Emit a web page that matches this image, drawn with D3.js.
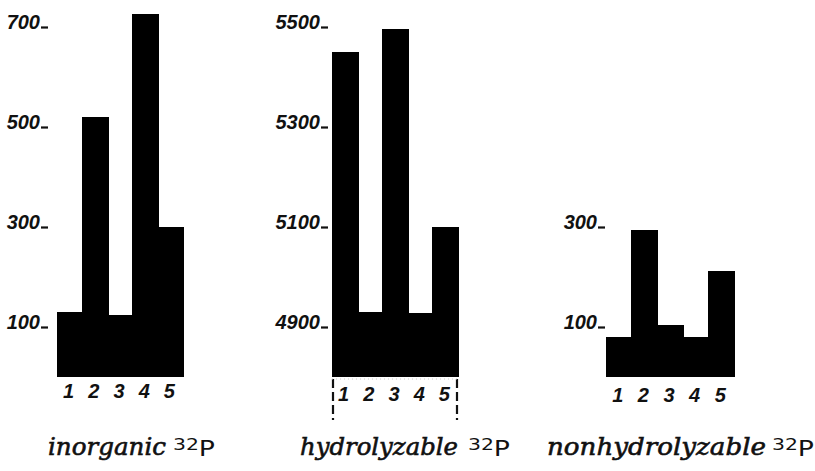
<!DOCTYPE html>
<html>
<head>
<meta charset="utf-8">
<script src="https://cdn.jsdelivr.net/npm/d3@7"></script>
<style>
  body { margin: 0; background: #fff; }
  .num { font-family: "Liberation Sans", sans-serif; font-weight: bold; font-style: italic; font-size: 20px; fill: #111; }
  .title { font-family: "DejaVu Serif", serif; font-style: italic; font-size: 24px; fill: #111; stroke: #111; stroke-width: 0.6px; }
  .sup { font-family: "DejaVu Sans", sans-serif; fill: #111; }
</style>
</head>
<body>
<div class="chart"></div>
<script>
var categories = ["1", "2", "3", "4", "5"];
var inorganic = [130, 520, 125, 726, 300];
var hydrolyzable = [5450, 4930, 5496, 4928, 5100];
var nonhydrolyzable = [80, 294, 104, 80, 212];
var inorganicTicks = [100, 300, 500, 700];
var hydrolyzableTicks = [4900, 5100, 5300, 5500];
var nonhydrolyzableTicks = [100, 300];
var titles = ["inorganic", "hydrolyzable", "nonhydrolyzable"];

var svg = d3.select('.chart')
    .append('svg')
    .attr('width', 815)
    .attr('height', 471);

// every panel shares the same vertical scale: 200 units = 100 px
var panels = [
    { values: inorganic, ticks: inorganicTicks, domain: [0, 700], x0: 57, x1: 183, axisX: 48, labelY: 398,
      title: titles[0], tx: 48, tw: 118, sx: 173 },
    { values: hydrolyzable, ticks: hydrolyzableTicks, domain: [4800, 5500], x0: 332, x1: 458, axisX: 328, labelY: 401,
      title: titles[1], tx: 300, tw: 158, sx: 468, dashed: true },
    { values: nonhydrolyzable, ticks: nonhydrolyzableTicks, domain: [0, 300], x0: 606, x1: 734, axisX: 605, labelY: 402,
      title: titles[2], tx: 547, tw: 219, sx: 772 }
];

var baseY = 377;

panels.forEach(function (p) {
    var y = d3.scaleLinear()
        .domain(p.domain)
        .range([baseY, baseY - (p.domain[1] - p.domain[0]) / 2]);

    var x = d3.scaleBand()
        .domain(categories)
        .range([p.x0, p.x1])
        .padding(0);

    var g = svg.append('g');

    g.selectAll('.bar')
        .data(p.values)
        .enter().append('rect')
        .attr('class', 'bar')
        .attr('x', (d, i) => Math.floor(x(categories[i])))
        .attr('width', x.bandwidth() + 1.5)
        .attr('y', d => Math.round(y(d)))
        .attr('height', d => baseY - Math.round(y(d)))
        .attr('shape-rendering', 'crispEdges')
        .attr('fill', '#000');

    // y axis: number followed by a short dash on its baseline
    var yAxis = d3.axisLeft(y)
        .tickValues(p.ticks)
        .tickSize(7)
        .tickPadding(1)
        .tickFormat(d3.format('d'));

    var ya = g.append('g')
        .attr('transform', 'translate(' + p.axisX + ',0)')
        .call(yAxis);
    ya.select('.domain').remove();
    ya.selectAll('.tick line').attr('stroke', '#111').attr('stroke-width', 2.2);
    ya.selectAll('.tick text')
        .attr('class', 'num')
        .attr('dy', '0.05em');
    ya.attr('font-family', null).attr('font-size', null);

    // category numbers under the bars
    var xAxis = d3.axisBottom(x).tickSize(0).tickPadding(0);
    var xa = g.append('g')
        .attr('transform', 'translate(-1,' + p.labelY + ')')
        .call(xAxis);
    xa.select('.domain').remove();
    xa.attr('font-family', null).attr('font-size', null);
    xa.selectAll('.tick text')
        .attr('class', 'num')
        .attr('y', 0)
        .attr('dy', 0);

    if (p.dashed) {
        [p.x0 + 1, p.x1 - 1].forEach(function (xx) {
            g.append('line')
                .attr('x1', xx).attr('x2', xx)
                .attr('y1', baseY + 2).attr('y2', 420)
                .attr('stroke', '#111')
                .attr('stroke-width', 2.2)
                .attr('stroke-dasharray', '9,4');
        });
        g.append('line')
            .attr('x1', p.x0).attr('x2', p.x1)
            .attr('y1', baseY + 2).attr('y2', baseY + 2)
            .attr('stroke', '#ccc')
            .attr('stroke-width', 1)
            .attr('stroke-dasharray', '1,3');
    }

    svg.append('text')
        .attr('class', 'title')
        .attr('x', p.tx)
        .attr('y', 455)
        .attr('textLength', p.tw)
        .attr('lengthAdjust', 'spacingAndGlyphs')
        .text(p.title);

    var sup = svg.append('text')
        .attr('class', 'sup')
        .attr('x', p.sx)
        .attr('y', 456)
        .attr('textLength', 42)
        .attr('lengthAdjust', 'spacingAndGlyphs');
    sup.append('tspan')
        .attr('font-size', '16px')
        .attr('dy', '-6')
        .text('32');
    sup.append('tspan')
        .attr('font-size', '21px')
        .attr('dy', '6')
        .text('P');
});
</script>
</body>
</html>
